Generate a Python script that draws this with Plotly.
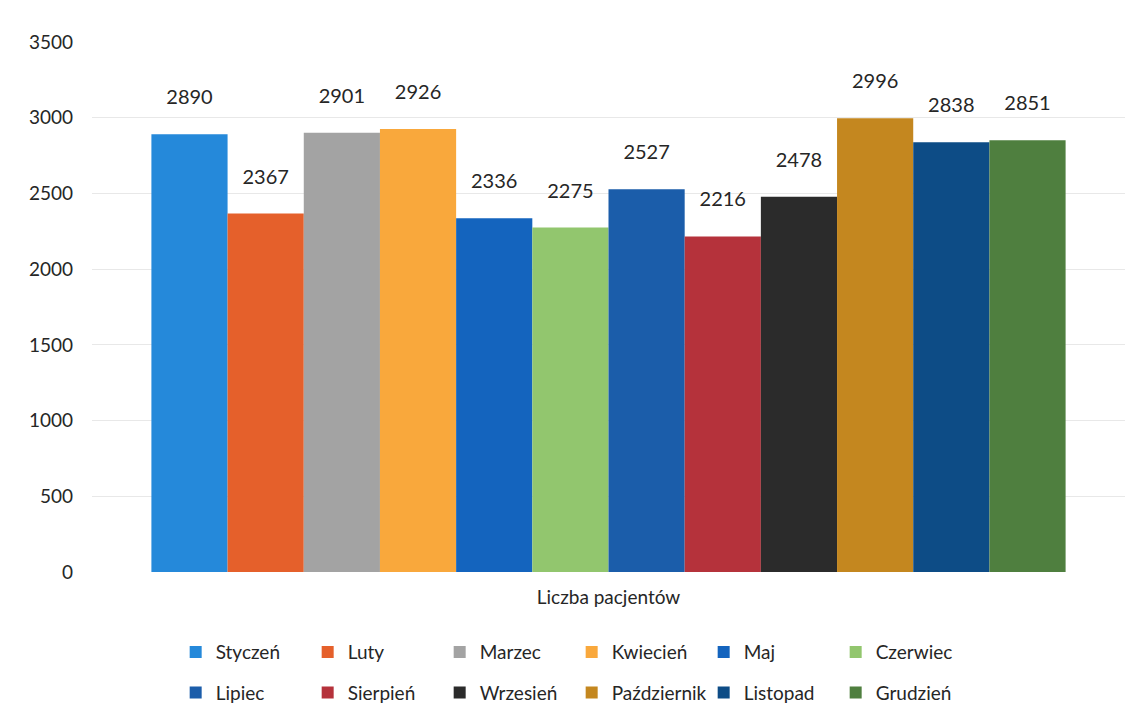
import plotly.graph_objects as go

category = ["Liczba pacjentów"]
months = ["Styczeń", "Luty", "Marzec", "Kwiecień", "Maj", "Czerwiec",
          "Lipiec", "Sierpień", "Wrzesień", "Październik", "Listopad", "Grudzień"]
values = [2890, 2367, 2901, 2926, 2336, 2275, 2527, 2216, 2478, 2996, 2838, 2851]
colors = ["#2589DA", "#E5602B", "#A3A3A3", "#F9A83C", "#1464BE", "#92C66E",
          "#1B5DAA", "#B5323B", "#2B2B2B", "#C4871F", "#0D4C86", "#4F7F3F"]
y_ticks = [0, 500, 1000, 1500, 2000, 2500, 3000, 3500]

FONT = "Lato, 'Open Sans', sans-serif"
fig = go.Figure()
for i, (m, v, c) in enumerate(zip(months, values, colors)):
    fig.add_trace(go.Bar(
        name=m, x=category, y=[v], marker=dict(color=c, line=dict(width=0)),
        text=[f"{v}<br><span style='font-size:4px'> </span>"], textposition="outside",
        cliponaxis=False,
        textfont=dict(size=20, color="#262626", family=FONT),
        legend="legend" if i < 6 else "legend2",
    ))

legend_common = dict(orientation="h", xanchor="left", yanchor="middle", yref="container",
                     entrywidth=87, entrywidthmode="pixels", itemwidth=30,
                     font=dict(size=19, family=FONT, color="#262626"), traceorder="normal",
                     bgcolor="rgba(0,0,0,0)")
fig.update_layout(
    width=1147, height=723,
    margin=dict(l=84, r=30, t=34, b=159, autoexpand=False),
    paper_bgcolor="white", plot_bgcolor="white",
    barmode="group", bargap=0.115, bargroupgap=0,
    font=dict(family=FONT, size=19, color="#262626"),
    legend=dict(x=0.081, y=0.109, **legend_common),
    legend2=dict(x=0.081, y=0.053, **legend_common),
    showlegend=True,
)
fig.update_yaxes(range=[0, 3500], tickvals=y_ticks, showgrid=True, gridcolor="#E8E8E8",
                 gridwidth=1, zeroline=False, showline=False, ticks="", ticklabelstandoff=18,
                 tickfont=dict(size=19), automargin=False)
fig.update_xaxes(showline=False, ticks="", tickfont=dict(size=19), automargin=False,
                 ticklabelstandoff=12)

fig.write_html("out.html")
